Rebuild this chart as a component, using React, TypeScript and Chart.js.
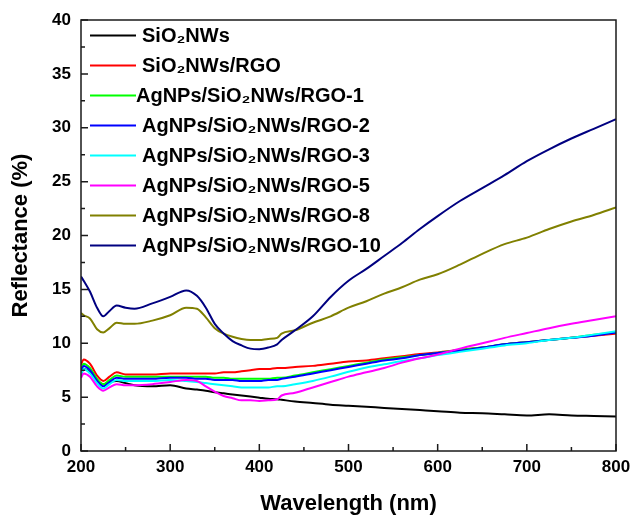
import React, { useEffect, useRef } from "react";
import { Chart, registerables } from "chart.js";

Chart.register(...registerables);

const wavelengths = [200, 203, 210, 218, 225, 232, 240, 250, 260, 280, 300, 318, 330, 340, 350, 360, 370, 380, 390, 400, 410, 420, 425, 440, 460, 480, 500, 520, 540, 560, 580, 600, 625, 650, 675, 700, 725, 750, 775, 800];

const sio2 = [7.1, 7.6, 7.3, 6.5, 6.2, 6.4, 6.5, 6.3, 6.1, 6.0, 6.1, 5.8, 5.7, 5.6, 5.45, 5.35, 5.25, 5.15, 5.05, 4.95, 4.85, 4.8, 4.75, 4.6, 4.45, 4.3, 4.2, 4.1, 4.0, 3.9, 3.8, 3.7, 3.55, 3.5, 3.4, 3.3, 3.4, 3.3, 3.25, 3.2];
const sio2Rgo = [8.0, 8.5, 8.1, 7.0, 6.5, 6.9, 7.3, 7.1, 7.1, 7.1, 7.2, 7.2, 7.2, 7.2, 7.2, 7.3, 7.3, 7.4, 7.5, 7.6, 7.6, 7.7, 7.7, 7.8, 7.9, 8.1, 8.3, 8.4, 8.6, 8.8, 9.0, 9.15, 9.4, 9.6, 9.9, 10.1, 10.3, 10.5, 10.7, 10.9];
const rgo1 = [7.6, 8.1, 7.7, 6.7, 6.2, 6.6, 7.0, 6.9, 6.9, 6.9, 6.9, 6.9, 6.9, 6.9, 6.8, 6.8, 6.7, 6.7, 6.7, 6.7, 6.7, 6.8, 6.8, 7.0, 7.3, 7.6, 7.9, 8.2, 8.5, 8.7, 8.9, 9.1, 9.4, 9.6, 9.9, 10.1, 10.3, 10.5, 10.8, 11.0];
const rgo2 = [7.4, 7.9, 7.5, 6.5, 6.0, 6.4, 6.8, 6.7, 6.7, 6.7, 6.8, 6.8, 6.7, 6.7, 6.6, 6.6, 6.6, 6.5, 6.5, 6.5, 6.6, 6.6, 6.7, 6.9, 7.2, 7.5, 7.8, 8.1, 8.4, 8.6, 8.9, 9.1, 9.3, 9.6, 9.9, 10.1, 10.3, 10.5, 10.7, 11.0];
const rgo3 = [7.1, 7.6, 7.2, 6.3, 5.8, 6.2, 6.6, 6.5, 6.5, 6.5, 6.6, 6.5, 6.4, 6.3, 6.2, 6.1, 6.0, 5.9, 5.9, 5.9, 5.9, 6.0, 6.0, 6.2, 6.5, 6.9, 7.35, 7.75, 8.05, 8.35, 8.6, 8.9, 9.2, 9.5, 9.8, 10.0, 10.3, 10.5, 10.8, 11.1];
const rgo5 = [6.8, 7.2, 6.9, 6.0, 5.6, 5.9, 6.2, 6.1, 6.1, 6.2, 6.4, 6.6, 6.5, 6.0, 5.5, 5.1, 4.9, 4.7, 4.7, 4.65, 4.7, 4.8, 5.15, 5.4, 5.9, 6.4, 6.9, 7.3, 7.7, 8.2, 8.6, 8.95, 9.5, 10.0, 10.5, 10.95, 11.4, 11.8, 12.15, 12.5];
const rgo8 = [12.8, 12.6, 12.3, 11.3, 11.0, 11.4, 11.9, 11.8, 11.8, 12.1, 12.6, 13.3, 13.2, 12.4, 11.4, 10.9, 10.6, 10.4, 10.3, 10.3, 10.4, 10.5, 10.9, 11.2, 11.9, 12.5, 13.3, 13.9, 14.6, 15.2, 15.9, 16.4, 17.3, 18.3, 19.2, 19.8, 20.6, 21.3, 21.9, 22.6];
const rgo10 = [16.2, 15.8, 14.8, 13.3, 12.5, 13.0, 13.5, 13.3, 13.2, 13.7, 14.3, 14.9, 14.4, 13.3, 11.8, 10.9, 10.2, 9.8, 9.5, 9.45, 9.6, 9.9, 10.3, 11.2, 12.5, 14.3, 15.8, 16.9, 18.1, 19.3, 20.6, 21.8, 23.2, 24.4, 25.6, 26.9, 28.0, 29.0, 29.9, 30.8];

const seriesLabels = [
  "SiO\u2082NWs",
  "SiO\u2082NWs/RGO",
  "AgNPs/SiO\u2082NWs/RGO-1",
  "AgNPs/SiO\u2082NWs/RGO-2",
  "AgNPs/SiO\u2082NWs/RGO-3",
  "AgNPs/SiO\u2082NWs/RGO-5",
  "AgNPs/SiO\u2082NWs/RGO-8",
  "AgNPs/SiO\u2082NWs/RGO-10",
];
const seriesValues = [sio2, sio2Rgo, rgo1, rgo2, rgo3, rgo5, rgo8, rgo10];
const seriesColors = ["#000000", "#ff0000", "#00ff00", "#0000ff", "#00ffff", "#ff00ff", "#808000", "#000080"];

const xTitle = "Wavelength (nm)";
const yTitle = "Reflectance (%)";

const FONT = "'Liberation Sans', Arial, sans-serif";

const framePlugin = {
  id: "frameTicks",
  afterDraw(chart: any) {
    const { ctx, chartArea } = chart;
    const xs = chart.scales.x;
    const ys = chart.scales.y;
    ctx.save();
    ctx.strokeStyle = "#1a1a1a";
    ctx.lineWidth = 1.5;
    ctx.strokeRect(chartArea.left, chartArea.top, chartArea.right - chartArea.left, chartArea.bottom - chartArea.top);
    const xt = xs.ticks.map((t: any) => t.value);
    const yt = ys.ticks.map((t: any) => t.value);
    ctx.beginPath();
    xt.forEach((v: number, i: number) => {
      const px = xs.getPixelForValue(v);
      ctx.moveTo(px, chartArea.bottom);
      ctx.lineTo(px, chartArea.bottom - 7);
      if (i < xt.length - 1) {
        const mx = xs.getPixelForValue((v + xt[i + 1]) / 2);
        ctx.moveTo(mx, chartArea.bottom);
        ctx.lineTo(mx, chartArea.bottom - 4);
      }
    });
    yt.forEach((v: number, i: number) => {
      const py = ys.getPixelForValue(v);
      ctx.moveTo(chartArea.left, py);
      ctx.lineTo(chartArea.left + 7, py);
      if (i < yt.length - 1) {
        const my = ys.getPixelForValue((v + yt[i + 1]) / 2);
        ctx.moveTo(chartArea.left, my);
        ctx.lineTo(chartArea.left + 4, my);
      }
    });
    ctx.stroke();

    // legend
    const x0 = chartArea.left + 9;
    const y0 = chartArea.top + 15.5;
    ctx.font = `bold 20px ${FONT}`;
    ctx.textBaseline = "middle";
    ctx.textAlign = "left";
    chart.data.datasets.forEach((ds: any, i: number) => {
      const y = y0 + i * 30;
      ctx.strokeStyle = ds.borderColor;
      ctx.lineWidth = 2;
      ctx.beginPath();
      ctx.moveTo(x0, y);
      ctx.lineTo(x0 + 46, y);
      ctx.stroke();
      ctx.fillStyle = "#000";
      ctx.fillText(ds.label, x0 + (i === 2 ? 46 : 52), y + 1);
    });
    ctx.restore();
  },
};

export default function App() {
  const ref = useRef<HTMLCanvasElement>(null);
  useEffect(() => {
    if (!ref.current) return;
    const n = seriesLabels.length;
    const chart = new Chart(ref.current, {
      type: "line",
      data: {
        datasets: seriesLabels.map((label, i) => ({
          label,
          data: wavelengths.map((w, j) => ({ x: w, y: seriesValues[i][j] })),
          borderColor: seriesColors[i],
          backgroundColor: seriesColors[i],
          borderWidth: 2,
          pointRadius: 0,
          cubicInterpolationMode: "monotone" as const,
          fill: false,
          order: n - 1 - i,
        })),
      },
      options: {
        responsive: false,
        animation: false,
        layout: { padding: { top: 20, right: 18, left: 0, bottom: 0 } },
        plugins: { legend: { display: false }, tooltip: { enabled: false } },
        scales: {
          x: {
            type: "linear",
            min: 200,
            max: 800,
            ticks: { stepSize: 100, color: "#000", font: { family: FONT, size: 17, weight: "bold" }, padding: 6, maxRotation: 0 },
            grid: { display: false, drawTicks: false },
            border: { display: false },
            title: { display: true, text: xTitle, color: "#000", font: { family: FONT, size: 22, weight: "bold" }, padding: { top: 5, bottom: 0 } },
            afterFit: (s: any) => { s.height = 66; s.paddingLeft = 0; s.paddingRight = 0; },
          },
          y: {
            min: 0,
            max: 40,
            ticks: { stepSize: 5, color: "#000", font: { family: FONT, size: 17, weight: "bold" }, padding: 10 },
            grid: { display: false, drawTicks: false },
            border: { display: false },
            title: { display: true, text: yTitle, color: "#000", font: { family: FONT, size: 22, weight: "bold" }, padding: { top: 8, bottom: 0 } },
            afterFit: (s: any) => { s.width = 81; s.paddingTop = 0; s.paddingBottom = 0; },
          },
        },
      },
      plugins: [framePlugin],
    });
    return () => chart.destroy();
  }, []);
  return (
    <div style={{ position: "fixed", left: 0, top: 0, width: 634, height: 517, background: "#fff" }}>
      <canvas ref={ref} width={634} height={517} />
    </div>
  );
}
